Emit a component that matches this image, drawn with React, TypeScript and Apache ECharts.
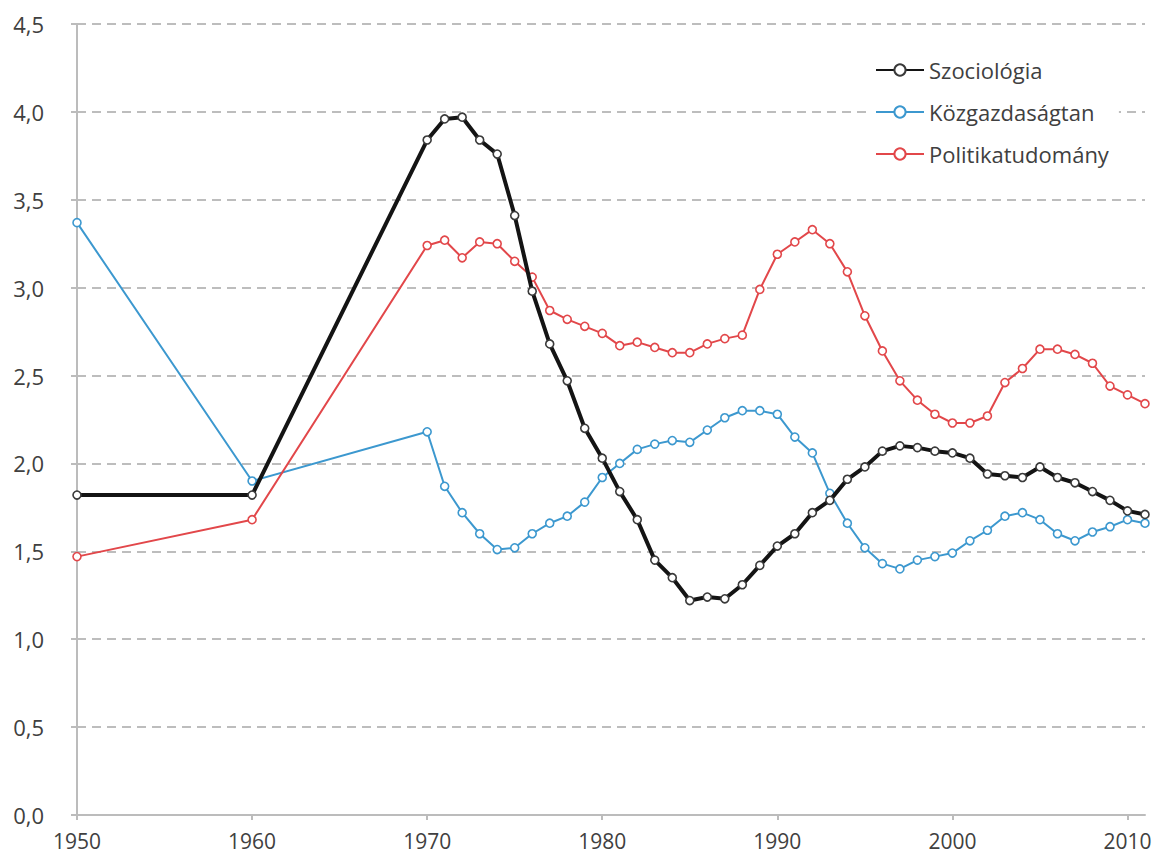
import React, { useEffect, useRef } from "react";
import * as echarts from "echarts";

const years = [1950, 1960, 1970, 1971, 1972, 1973, 1974, 1975, 1976, 1977, 1978, 1979, 1980, 1981, 1982, 1983, 1984, 1985, 1986, 1987, 1988, 1989, 1990, 1991, 1992, 1993, 1994, 1995, 1996, 1997, 1998, 1999, 2000, 2001, 2002, 2003, 2004, 2005, 2006, 2007, 2008, 2009, 2010, 2011];

const szociologia = [1.82, 1.82, 3.84, 3.96, 3.97, 3.84, 3.76, 3.41, 2.98, 2.68, 2.47, 2.20, 2.03, 1.84, 1.68, 1.45, 1.35, 1.22, 1.24, 1.23, 1.31, 1.42, 1.53, 1.60, 1.72, 1.79, 1.91, 1.98, 2.07, 2.10, 2.09, 2.07, 2.06, 2.03, 1.94, 1.93, 1.92, 1.98, 1.92, 1.89, 1.84, 1.79, 1.73, 1.71];

const kozgazdasagtan = [3.37, 1.90, 2.18, 1.87, 1.72, 1.60, 1.51, 1.52, 1.60, 1.66, 1.70, 1.78, 1.92, 2.00, 2.08, 2.11, 2.13, 2.12, 2.19, 2.26, 2.30, 2.30, 2.28, 2.15, 2.06, 1.83, 1.66, 1.52, 1.43, 1.40, 1.45, 1.47, 1.49, 1.56, 1.62, 1.70, 1.72, 1.68, 1.60, 1.56, 1.61, 1.64, 1.68, 1.66];

const politikatudomany = [1.47, 1.68, 3.24, 3.27, 3.17, 3.26, 3.25, 3.15, 3.06, 2.87, 2.82, 2.78, 2.74, 2.67, 2.69, 2.66, 2.63, 2.63, 2.68, 2.71, 2.73, 2.99, 3.19, 3.26, 3.33, 3.25, 3.09, 2.84, 2.64, 2.47, 2.36, 2.28, 2.23, 2.23, 2.27, 2.46, 2.54, 2.65, 2.65, 2.62, 2.57, 2.44, 2.39, 2.34];

const xTickLabels = [1950, 1960, 1970, 1980, 1990, 2000, 2010];
const seriesNames = ["Szociológia", "Közgazdaságtan", "Politikatudomány"];

const FONT = "'Open Sans', 'Noto Sans', sans-serif";

export default function App() {
  const ref = useRef<HTMLDivElement>(null);
  useEffect(() => {
    document.body.style.margin = "0";
    const chart = echarts.init(ref.current!, null, { renderer: "svg" });
    const pairs = (vals: number[]) => years.map((y, i) => [y, vals[i]]);
    chart.setOption({
      animation: false,
      backgroundColor: "#ffffff",
      textStyle: { fontFamily: FONT },
      grid: { left: 77, right: 19, top: 24, bottom: 42, containLabel: false },
      legend: {
        orient: "vertical",
        left: 870,
        top: 54,
        backgroundColor: "#ffffff",
        padding: [5, 10, 5, 5],
        itemWidth: 48,
        itemHeight: 14,
        itemGap: 20,
        data: seriesNames,
        textStyle: { fontFamily: FONT, fontSize: 22, fontWeight: 400, color: "#404040" },
      },
      xAxis: {
        type: "value",
        min: 1950,
        max: 2011,
        interval: 10,
        axisLine: { show: true, lineStyle: { color: "#bcbcbc", width: 2 } },
        axisTick: { show: true, length: 5, customValues: xTickLabels, lineStyle: { color: "#bcbcbc", width: 2 } },
        axisLabel: {
          customValues: xTickLabels,
          margin: 15,
          fontSize: 21,
          fontWeight: 400,
          lineHeight: 21,
          color: "#404040",
          fontFamily: FONT,
          formatter: (v: number) => String(v),
        },
        splitLine: { show: false },
      },
      yAxis: {
        type: "value",
        min: 0,
        max: 4.5,
        interval: 0.5,
        axisLine: { show: true, lineStyle: { color: "#bcbcbc", width: 2 } },
        axisTick: { show: true, length: 6, inside: false, lineStyle: { color: "#bcbcbc", width: 2 } },
        axisLabel: {
          margin: 33,
          fontSize: 22,
          fontWeight: 400,
          color: "#404040",
          fontFamily: FONT,
          formatter: (v: number) => v.toFixed(1).replace(".", ","),
        },
        splitLine: {
          show: true,
          lineStyle: { color: "#bdbdbd", width: 2, type: [9, 6] },
        },
      },
      series: [
        {
          name: "Közgazdaságtan",
          type: "line",
          data: pairs(kozgazdasagtan),
          smooth: false,
          symbol: "circle",
          symbolSize: 8,
          showAllSymbol: true,
          lineStyle: { color: "#3c98cf", width: 2 },
          itemStyle: { color: "#ffffff", borderColor: "#3c98cf", borderWidth: 1.6 },
          color: "#3c98cf",
          z: 2,
        },
        {
          name: "Politikatudomány",
          type: "line",
          data: pairs(politikatudomany),
          smooth: false,
          symbol: "circle",
          symbolSize: 8,
          showAllSymbol: true,
          lineStyle: { color: "#e2474a", width: 2 },
          itemStyle: { color: "#ffffff", borderColor: "#e2474a", borderWidth: 1.6 },
          color: "#e2474a",
          z: 3,
        },
        {
          name: "Szociológia",
          type: "line",
          data: pairs(szociologia),
          smooth: false,
          symbol: "circle",
          symbolSize: 8,
          showAllSymbol: true,
          lineStyle: { color: "#141414", width: 4, join: "round" },
          itemStyle: { color: "#ffffff", borderColor: "#3a3a3a", borderWidth: 1.6 },
          color: "#141414",
          z: 4,
        },
      ],
    });
    return () => chart.dispose();
  }, []);
  return <div ref={ref} style={{ width: 1164, height: 857 }} />;
}
